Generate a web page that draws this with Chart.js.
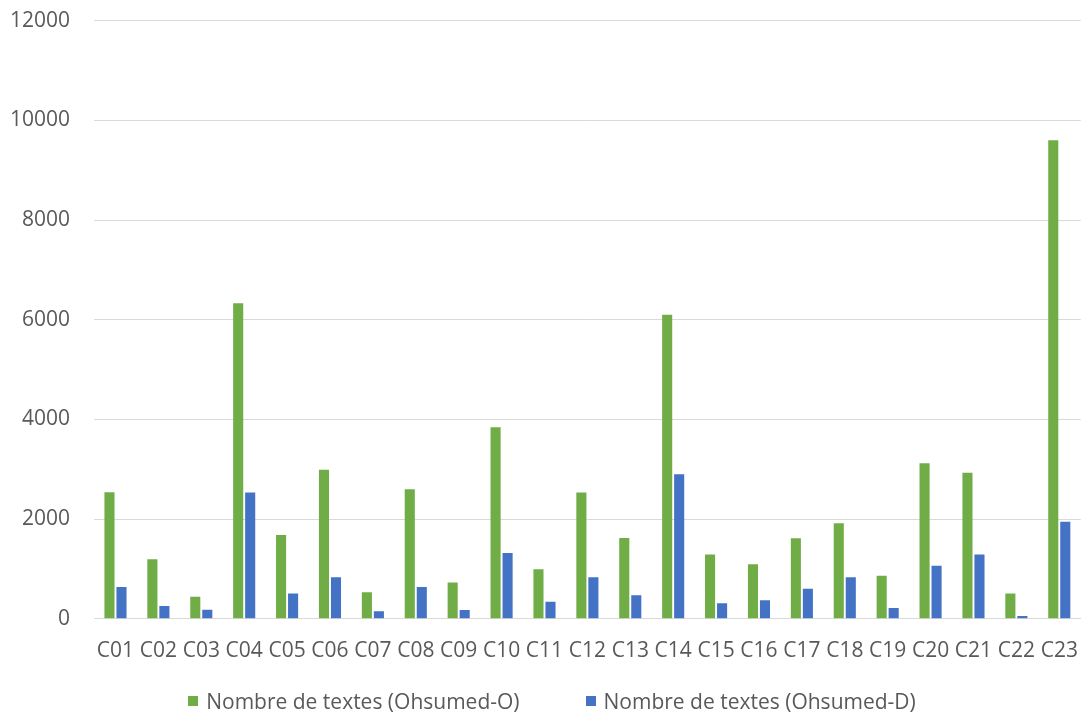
<!DOCTYPE html>
<html>
<head>
<meta charset="utf-8">
<script src="https://cdn.jsdelivr.net/npm/chart.js@4"></script>
<style>
  html, body { margin: 0; padding: 0; background: #fff; }
  #wrap { position: relative; width: 1090px; height: 716px; }
  #legend {
    position: absolute; left: 0; right: 0; top: 687px;
    display: flex; justify-content: center; gap: 66px;
    font-family: "Open Sans", sans-serif; font-size: 21px; color: #595959;
    padding-left: 14px;
  }
  #legend span.item { display: flex; align-items: center; }
  #legend i { display: inline-block; width: 10px; height: 10px; margin-right: 8px; }
</style>
</head>
<body>
<div id="wrap">
  <canvas id="chart" width="1090" height="716"></canvas>
  <div id="legend"></div>
</div>
<script>
// Ohsumed: number of texts per category, original vs derived corpus
const categories = ['C01', 'C02', 'C03', 'C04', 'C05', 'C06', 'C07', 'C08', 'C09', 'C10', 'C11', 'C12',
                    'C13', 'C14', 'C15', 'C16', 'C17', 'C18', 'C19', 'C20', 'C21', 'C22', 'C23'];
const ohsumedO = [2540, 1195, 440, 6330, 1680, 2990, 535, 2600, 730, 3845, 995, 2535,
                  1620, 6100, 1290, 1095, 1615, 1915, 865, 3120, 2930, 510, 9600];
const ohsumedD = [640, 255, 180, 2535, 510, 835, 150, 640, 175, 1320, 340, 835,
                  470, 2900, 310, 370, 605, 835, 215, 1065, 1290, 55, 1945];
const seriesNames = ['Nombre de textes (Ohsumed-O)', 'Nombre de textes (Ohsumed-D)'];
const yTicks = [0, 2000, 4000, 6000, 8000, 10000, 12000];

const green = '#70AD47';
const blue = '#4472C4';
const textColor = '#595959';
const gridColor = '#D9D9D9';
const font = { family: '"Open Sans", sans-serif', size: 21 };

const ctx = document.getElementById('chart');

new Chart(ctx, {
    type: 'bar',
    data: {
        labels: categories,
        datasets: [
            {
                label: seriesNames[0],
                data: ohsumedO,
                backgroundColor: green,
                barPercentage: 0.84,
                categoryPercentage: 0.56
            },
            {
                label: seriesNames[1],
                data: ohsumedD,
                backgroundColor: blue,
                barPercentage: 0.84,
                categoryPercentage: 0.56
            }
        ]
    },
    options: {
        responsive: false,
        animation: false,
        layout: { padding: { left: 2, right: 5, top: 0, bottom: 40 } },
        plugins: {
            legend: { display: false },
            tooltip: { enabled: false }
        },
        scales: {
            x: {
                grid: { display: false },
                border: { color: gridColor, width: 1 },
                ticks: { color: textColor, font: font, maxRotation: 0, autoSkip: false, padding: 12 }
            },
            y: {
                min: 0,
                max: 12000,
                afterBuildTicks: axis => { axis.ticks = yTicks.map(v => ({ value: v })); },
                // invisible tick marks keep the gap between labels and plot
                grid: { color: gridColor, drawTicks: true, tickLength: 16, tickColor: 'rgba(0,0,0,0)' },
                border: { display: false },
                ticks: { color: textColor, font: font, padding: 8, callback: v => String(v) }
            }
        }
    }
});

// legend drawn as html under the canvas
const legend = document.getElementById('legend');
[green, blue].forEach((c, i) => {
    const item = document.createElement('span');
    item.className = 'item';
    item.innerHTML = '<i style="background:' + c + '"></i>' + seriesNames[i];
    legend.appendChild(item);
});
</script>
</body>
</html>
